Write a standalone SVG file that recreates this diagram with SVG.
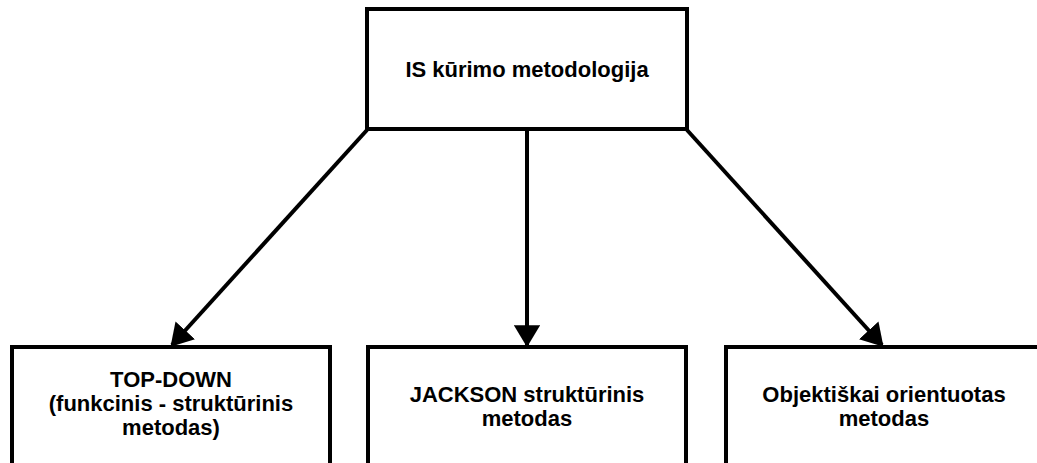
<svg xmlns="http://www.w3.org/2000/svg" width="1037" height="463" viewBox="0 0 1037 463">
<style>
.box{fill:#fff;stroke:#000;stroke-width:4}
.t{font-family:"Liberation Sans",Arial,sans-serif;font-weight:bold;font-size:22px;text-anchor:middle;fill:#000}
.c{stroke:#000;stroke-width:4;fill:none}
</style>
<defs>
<marker id="ah" viewBox="0 0 10 12" refX="9" refY="6" markerWidth="5.5" markerHeight="6.6" markerUnits="strokeWidth" orient="auto">
<path d="M0,0 L10,6 L0,12 z" fill="#000"/>
</marker>
</defs>
<rect width="1037" height="463" fill="#fff"/>
<g id="connectors">
<line class="c" x1="367" y1="130" x2="172" y2="345" marker-end="url(#ah)"/>
<line class="c" x1="527" y1="130" x2="527" y2="345" marker-end="url(#ah)"/>
<line class="c" x1="687" y1="130" x2="882" y2="345" marker-end="url(#ah)"/>
</g>
<g id="n0">
<rect class="box" x="367" y="9" width="320" height="120"/>
<text class="t" x="527" y="77">IS kūrimo metodologija</text>
</g>
<g id="n1">
<rect class="box" x="12" y="347" width="318" height="130"/>
<text class="t" x="171" y="387">TOP-DOWN</text>
<text class="t" x="171" y="411">(funkcinis - struktūrinis</text>
<text class="t" x="171" y="435">metodas)</text>
</g>
<g id="n2">
<rect class="box" x="368" y="347" width="318" height="130"/>
<text class="t" x="527" y="402">JACKSON struktūrinis</text>
<text class="t" x="527" y="426">metodas</text>
</g>
<g id="n3">
<rect class="box" x="726" y="347" width="320" height="130"/>
<text class="t" x="884" y="402">Objektiškai orientuotas</text>
<text class="t" x="884" y="426">metodas</text>
</g>
</svg>
